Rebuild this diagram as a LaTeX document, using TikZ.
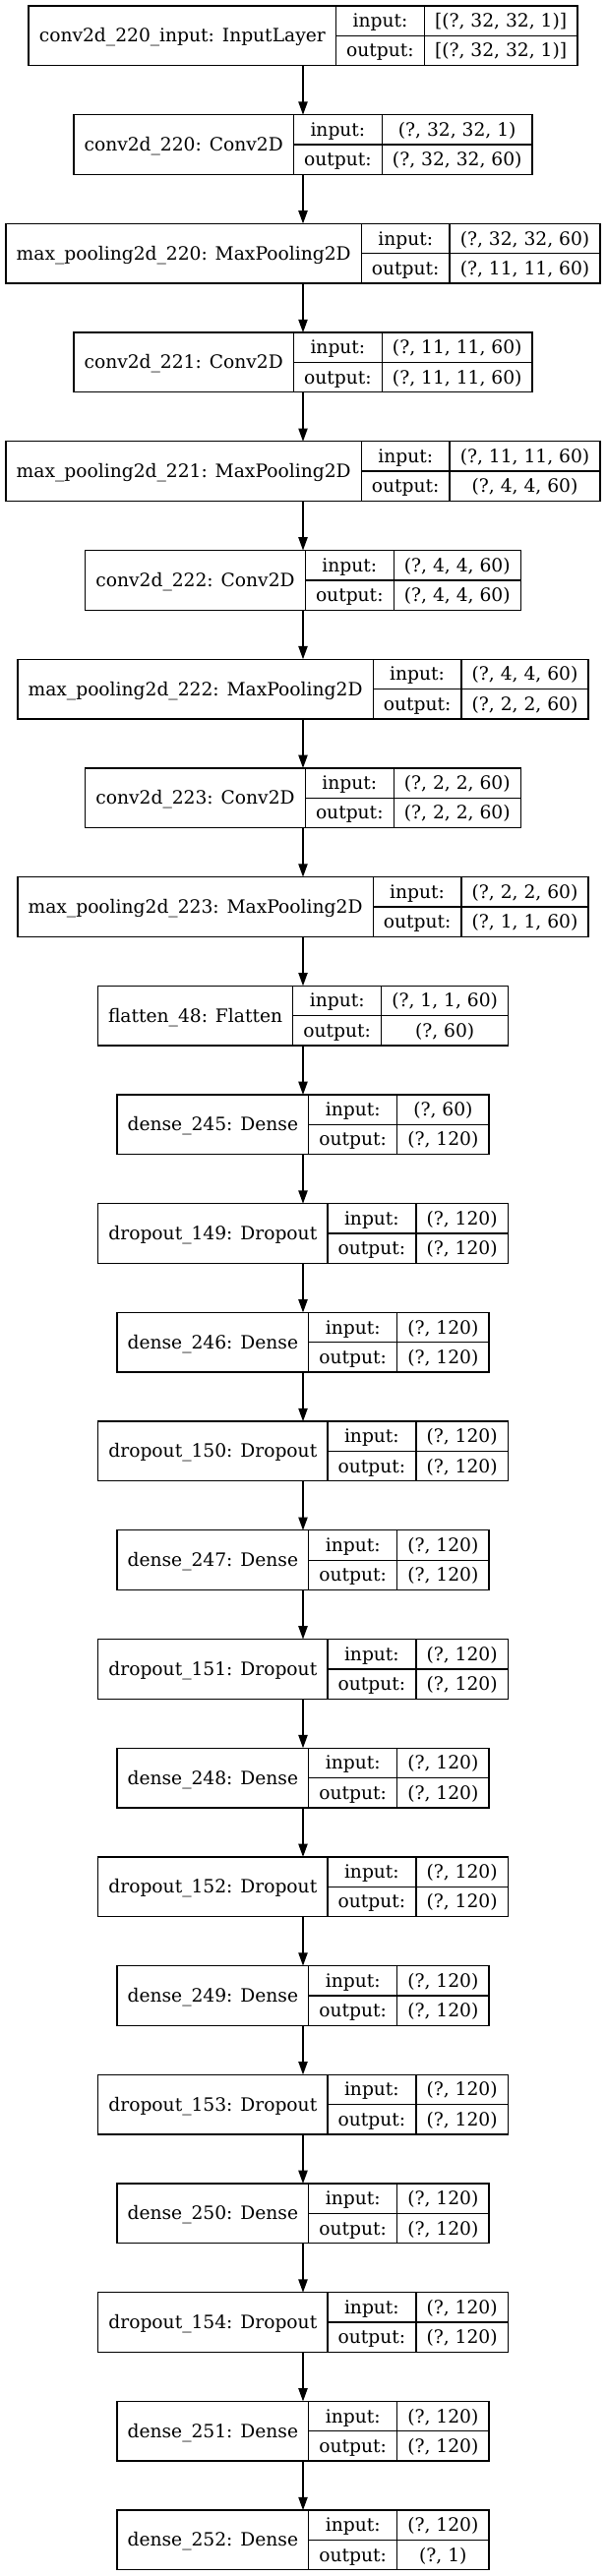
\documentclass[tikz,border=0pt]{standalone}
\usepackage{fontspec}
\setmainfont{DejaVu Serif}
\usetikzlibrary{arrows.meta}

\let\origselectfont\selectfont
\newcommand{\layerfont}{\fontsize{18.67pt}{22pt}\selectfont}
% pgf blanks \selectfont in the picture body, so measure with the saved one
\newcommand{\measurefont}{\fontsize{18.67pt}{22pt}\origselectfont}
\newlength\namew \newlength\labw \newlength\valw \newlength\tmpw

\tikzset{
  layer/.style={inner sep=0pt, outer sep=0pt, minimum height=60.7pt, anchor=north},
  namecell/.style={draw, line width=1.33pt, font=\layerfont, inner xsep=10.67pt, inner ysep=0pt, outer sep=0pt,
    text height=17.3pt, text depth=4.4pt, minimum height=60.7pt, anchor=north west},
  cell/.style={namecell, minimum height=30.35pt},
  edge/.style={-{Triangle[length=13.3pt,width=9.3pt]}, line width=1.33pt}
}

% one keras layer: row, title, input shape, output shape
\newcommand{\layer}[4]{%
  \settowidth{\namew}{\measurefont #2}\addtolength{\namew}{21.33pt}%
  \settowidth{\labw}{\measurefont output:}\addtolength{\labw}{21.33pt}%
  \settowidth{\valw}{\measurefont #3}\settowidth{\tmpw}{\measurefont #4}%
  \ifdim\tmpw>\valw\setlength{\valw}{\tmpw}\fi
  \addtolength{\valw}{21.33pt}%
  \pgfmathsetlengthmacro{\boxw}{\namew+\labw+\valw}%
  \node[layer, minimum width=\boxw] (L#1) at (308,{6+#1*110.7}) {};
  \node[namecell, minimum width=\namew] (L#1-name) at (L#1.north west) {#2};
  \node[cell, minimum width=\labw] (L#1-inl) at (L#1-name.north east) {input:};
  \node[cell, minimum width=\labw] (L#1-outl) at (L#1-inl.south west) {output:};
  \node[cell, minimum width=\valw] (L#1-inv) at (L#1-inl.north east) {#3};
  \node[cell, minimum width=\valw] (L#1-outv) at (L#1-inv.south west) {#4};
}

\begin{document}
\begin{tikzpicture}[x=1pt,y=-1pt]
		\useasboundingbox (0,0) rectangle (616,2619);
		%Conv part
		\layer{0}{conv2d\_220\_input: InputLayer}{[(?, 32, 32, 1)]}{[(?, 32, 32, 1)]}
		\layer{1}{conv2d\_220: Conv2D}{(?, 32, 32, 1)}{(?, 32, 32, 60)}
		\layer{2}{max\_pooling2d\_220: MaxPooling2D}{(?, 32, 32, 60)}{(?, 11, 11, 60)}
		\layer{3}{conv2d\_221: Conv2D}{(?, 11, 11, 60)}{(?, 11, 11, 60)}
		\layer{4}{max\_pooling2d\_221: MaxPooling2D}{(?, 11, 11, 60)}{(?, 4, 4, 60)}
		\layer{5}{conv2d\_222: Conv2D}{(?, 4, 4, 60)}{(?, 4, 4, 60)}
		\layer{6}{max\_pooling2d\_222: MaxPooling2D}{(?, 4, 4, 60)}{(?, 2, 2, 60)}
		\layer{7}{conv2d\_223: Conv2D}{(?, 2, 2, 60)}{(?, 2, 2, 60)}
		\layer{8}{max\_pooling2d\_223: MaxPooling2D}{(?, 2, 2, 60)}{(?, 1, 1, 60)}
		\layer{9}{flatten\_48: Flatten}{(?, 1, 1, 60)}{(?, 60)}
		%Dense part
		\layer{10}{dense\_245: Dense}{(?, 60)}{(?, 120)}
		\layer{11}{dropout\_149: Dropout}{(?, 120)}{(?, 120)}
		\layer{12}{dense\_246: Dense}{(?, 120)}{(?, 120)}
		\layer{13}{dropout\_150: Dropout}{(?, 120)}{(?, 120)}
		\layer{14}{dense\_247: Dense}{(?, 120)}{(?, 120)}
		\layer{15}{dropout\_151: Dropout}{(?, 120)}{(?, 120)}
		\layer{16}{dense\_248: Dense}{(?, 120)}{(?, 120)}
		\layer{17}{dropout\_152: Dropout}{(?, 120)}{(?, 120)}
		\layer{18}{dense\_249: Dense}{(?, 120)}{(?, 120)}
		\layer{19}{dropout\_153: Dropout}{(?, 120)}{(?, 120)}
		\layer{20}{dense\_250: Dense}{(?, 120)}{(?, 120)}
		\layer{21}{dropout\_154: Dropout}{(?, 120)}{(?, 120)}
		\layer{22}{dense\_251: Dense}{(?, 120)}{(?, 120)}
		\layer{23}{dense\_252: Dense}{(?, 120)}{(?, 1)}
		%Edges
		\foreach \i [evaluate=\i as \j using int(\i+1)] in {0,...,22}
			\draw[edge] (L\i.south) -- (L\j.north);
\end{tikzpicture}
\end{document}
